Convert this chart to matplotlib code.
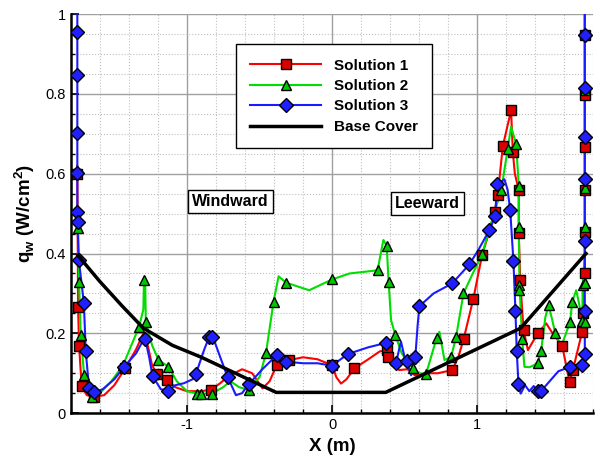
import matplotlib
matplotlib.use('Agg')
import matplotlib.pyplot as plt
from matplotlib.ticker import MultipleLocator, FormatStrFormatter

plt.rcParams['font.family'] = ['Liberation Sans', 'DejaVu Sans']
plt.rcParams['mathtext.fontset'] = 'custom'
plt.rcParams['mathtext.rm'] = 'Liberation Sans:bold'
plt.rcParams['axes.unicode_minus'] = False

# Solution 1 (rojo, cuadrados)
s1_x = [-1.755, -1.75, -1.743, -1.725, -1.69, -1.64, -1.57, -1.5, -1.426, -1.35, -1.3, -1.27,
        -1.24, -1.207, -1.134, -1.08, -1.0, -0.9, -0.834, -0.77, -0.72, -0.62, -0.55, -0.479,
        -0.43, -0.382, -0.294, -0.2, -0.1, 0.0, 0.03, 0.062, 0.1, 0.154, 0.25, 0.33, 0.38,
        0.385, 0.41, 0.464, 0.52, 0.57, 0.648, 0.73, 0.828, 0.87, 0.908, 0.974, 1.034, 1.08,
        1.12, 1.142, 1.177, 1.234, 1.246, 1.26, 1.287, 1.287, 1.297, 1.32, 1.35, 1.418, 1.476,
        1.52, 1.586, 1.637, 1.66, 1.724, 1.728, 1.742, 1.742]
s1_y = [0.62, 0.265, 0.169, 0.068, 0.045, 0.041, 0.045, 0.07, 0.112, 0.16, 0.2, 0.17,
        0.12, 0.098, 0.083, 0.065, 0.055, 0.055, 0.059, 0.075, 0.091, 0.11, 0.1, 0.062,
        0.08, 0.12, 0.133, 0.14, 0.135, 0.12, 0.09, 0.074, 0.085, 0.112, 0.135, 0.155, 0.157,
        0.14, 0.12, 0.108, 0.11, 0.095, 0.1, 0.1, 0.108, 0.14, 0.187, 0.287, 0.396, 0.45,
        0.505, 0.546, 0.669, 0.759, 0.655, 0.6, 0.559, 0.452, 0.333, 0.208, 0.158, 0.2, 0.225,
        0.2, 0.169, 0.078, 0.108, 0.204, 0.251, 0.35, 1.05]
s1_mx = [-1.755, -1.75, -1.743, -1.725, -1.64, -1.426, -1.207, -1.134, -0.834, -0.382, -0.294,
         0.0, 0.154, 0.38, 0.385, 0.828, 0.908, 0.974, 1.034, 1.12, 1.142, 1.177, 1.234, 1.246,
         1.287, 1.287, 1.297, 1.32, 1.418, 1.586, 1.637, 1.66, 1.724, 1.728,
         1.742, 1.742, 1.742, 1.742, 1.742, 1.742]
s1_my = [0.60, 0.265, 0.169, 0.068, 0.041, 0.112, 0.098, 0.083, 0.059, 0.12, 0.133,
         0.12, 0.112, 0.157, 0.14, 0.108, 0.187, 0.287, 0.396, 0.505, 0.546, 0.669, 0.759, 0.655,
         0.559, 0.452, 0.333, 0.208, 0.2, 0.169, 0.078, 0.108, 0.204, 0.251,
         0.35, 0.453, 0.559, 0.666, 0.797, 0.949]

# Solution 2 (verde, triangulos)
s2_x = [-1.755, -1.749, -1.743, -1.732, -1.708, -1.68, -1.651, -1.6, -1.52, -1.44, -1.33, -1.30,
        -1.295, -1.288, -1.283, -1.24, -1.196, -1.127, -1.07, -1.0, -0.927, -0.904, -0.83,
        -0.75, -0.7, -0.64, -0.575, -0.5, -0.455, -0.403, -0.368, -0.317, -0.157, 0.0, 0.12,
        0.314, 0.354, 0.377, 0.39, 0.407, 0.437, 0.48, 0.52, 0.561, 0.6, 0.648, 0.69, 0.721,
        0.74, 0.775, 0.821, 0.855, 0.906, 0.97, 1.034, 1.1, 1.166, 1.211, 1.234, 1.269, 1.287,
        1.287, 1.292, 1.31, 1.326, 1.36, 1.39, 1.418, 1.441, 1.47, 1.492, 1.52, 1.538, 1.579,
        1.641, 1.655, 1.683, 1.705, 1.724, 1.728, 1.742, 1.742]
s2_y = [0.50, 0.463, 0.329, 0.196, 0.095, 0.05, 0.041, 0.05, 0.08, 0.12, 0.216, 0.26,
        0.34, 0.34, 0.229, 0.17, 0.134, 0.116, 0.08, 0.055, 0.049, 0.049, 0.049,
        0.065, 0.08, 0.065, 0.059, 0.09, 0.15, 0.279, 0.343, 0.327, 0.308, 0.335, 0.35,
        0.358, 0.434, 0.419, 0.329, 0.233, 0.195, 0.15, 0.13, 0.112, 0.1, 0.098, 0.15, 0.189,
        0.204, 0.133, 0.141, 0.191, 0.3, 0.35, 0.398, 0.48, 0.559, 0.663, 0.718, 0.674, 0.569,
        0.467, 0.32, 0.187, 0.116, 0.115, 0.12, 0.126, 0.156, 0.24, 0.271, 0.23, 0.2, 0.166,
        0.229, 0.279, 0.308, 0.27, 0.231, 0.321, 0.4, 1.05]
s2_mx = [-1.749, -1.743, -1.732, -1.708, -1.651, -1.44, -1.33, -1.295, -1.283, -1.196, -1.127,
         -0.927, -0.904, -0.83, -0.575, -0.455, -0.403, -0.317, 0.0, 0.314, 0.377, 0.39, 0.437,
         0.561, 0.648, 0.721, 0.821, 0.855, 0.906, 1.034, 1.166, 1.211, 1.269, 1.287, 1.287,
         1.292, 1.292, 1.31, 1.418, 1.441, 1.492, 1.538, 1.641, 1.655, 1.724, 1.728,
         1.742, 1.742, 1.742, 1.742, 1.742]
s2_my = [0.463, 0.329, 0.196, 0.095, 0.041, 0.12, 0.216, 0.333, 0.229, 0.134, 0.116,
         0.049, 0.049, 0.049, 0.059, 0.15, 0.279, 0.327, 0.335, 0.358, 0.419, 0.329, 0.195,
         0.112, 0.098, 0.189, 0.141, 0.191, 0.3, 0.398, 0.559, 0.663, 0.674, 0.569, 0.467,
         0.32, 0.308, 0.187, 0.126, 0.156, 0.271, 0.2, 0.229, 0.279, 0.231, 0.321,
         0.229, 0.325, 0.467, 0.565, 0.81]

# Solution 3 (azul, rombos)
s3_x = [-1.755, -1.755, -1.745, -1.71, -1.697, -1.674, -1.64, -1.58, -1.5, -1.432, -1.35,
        -1.29, -1.26, -1.237, -1.18, -1.127, -1.08, -1.02, -0.96, -0.938, -0.88, -0.846,
        -0.82, -0.77, -0.72, -0.662, -0.62, -0.575, -0.48, -0.382, -0.317, -0.2, -0.1, 0.0,
        0.108, 0.25, 0.372, 0.40, 0.441, 0.475, 0.50, 0.515, 0.545, 0.574, 0.59, 0.602, 0.7,
        0.828, 0.947, 1.01, 1.085, 1.126, 1.135, 1.165, 1.188, 1.21, 1.228, 1.25, 1.264,
        1.273, 1.285, 1.30, 1.33, 1.36, 1.39, 1.418, 1.44, 1.5, 1.56, 1.641, 1.68, 1.724,
        1.742, 1.742]
s3_y = [1.05, 0.48, 0.385, 0.276, 0.155, 0.062, 0.052, 0.06, 0.085, 0.116, 0.15,
        0.19, 0.14, 0.093, 0.06, 0.056, 0.07, 0.075, 0.085, 0.098, 0.16, 0.191,
        0.19, 0.14, 0.091, 0.045, 0.05, 0.072, 0.11, 0.145, 0.129, 0.125, 0.125, 0.119,
        0.148, 0.165, 0.176, 0.15, 0.125, 0.18, 0.14, 0.131, 0.095, 0.14, 0.22, 0.268, 0.3,
        0.325, 0.373, 0.41, 0.459, 0.494, 0.574, 0.58, 0.586, 0.56, 0.509, 0.382, 0.256,
        0.156, 0.072, 0.049, 0.07, 0.055, 0.068, 0.055, 0.055, 0.08, 0.105, 0.116, 0.12, 0.12,
        0.148, 1.05]
s3_mx = [-1.755, -1.755, -1.755, -1.755, -1.755, -1.752, -1.745, -1.71, -1.697, -1.674, -1.64,
         -1.432, -1.288, -1.237, -1.127, -0.938, -0.846, -0.825, -0.72, -0.575, -0.382, -0.317,
         0.0, 0.108, 0.372, 0.441, 0.515, 0.574, 0.602, 0.828, 0.947, 1.085, 1.126, 1.135,
         1.228, 1.25, 1.264, 1.273, 1.285, 1.418, 1.44, 1.641, 1.724,
         1.742, 1.742, 1.742, 1.742, 1.742, 1.742, 1.742]
s3_my = [0.956, 0.847, 0.701, 0.603, 0.504, 0.479, 0.385, 0.276, 0.155, 0.062, 0.052,
         0.116, 0.187, 0.093, 0.056, 0.098, 0.191, 0.19, 0.091, 0.072, 0.145, 0.129,
         0.119, 0.148, 0.176, 0.125, 0.131, 0.14, 0.268, 0.325, 0.373, 0.459, 0.494, 0.574,
         0.509, 0.382, 0.256, 0.156, 0.072, 0.055, 0.055, 0.116, 0.12,
         0.148, 0.256, 0.431, 0.588, 0.691, 0.816, 0.949]

# Base Cover
base_x = [-1.75, -1.6, -1.45, -1.3, -1.1, -0.9, -0.385, 0.37, 1.3, 1.75]
base_y = [0.395, 0.33, 0.27, 0.213, 0.17, 0.14, 0.052, 0.052, 0.213, 0.40]

fig = plt.figure(figsize=(5.95, 4.57), dpi=100)
ax = fig.add_axes([0.119, 0.096, 0.878, 0.873])

ax.plot(s1_x, s1_y, color='#ff0000', lw=1.5, zorder=3)
ax.plot(s1_mx, s1_my, ls='none', marker='s', ms=6.5, mfc='#dd0000', mec='black', mew=1, zorder=4)
ax.plot(s2_x, s2_y, color='#00dd00', lw=1.5, zorder=3)
ax.plot(s2_mx, s2_my, ls='none', marker='^', ms=7.5, mfc='#00c800', mec='black', mew=1, zorder=4)
ax.plot(s3_x, s3_y, color='#1a1aff', lw=1.5, zorder=3)
ax.plot(s3_mx, s3_my, ls='none', marker='D', ms=6.8, mfc='#2020ff', mec='black', mew=1, zorder=4)
ax.plot(base_x, base_y, color='black', lw=2.5, zorder=5)

# entradas de la leyenda
h1, = ax.plot([], [], color='#ff0000', lw=1.5, marker='s', ms=6.5, mfc='#dd0000', mec='black')
h2, = ax.plot([], [], color='#00dd00', lw=1.5, marker='^', ms=7.5, mfc='#00c800', mec='black')
h3, = ax.plot([], [], color='#1a1aff', lw=1.5, marker='D', ms=6.8, mfc='#2020ff', mec='black')
h4, = ax.plot([], [], color='black', lw=2.5)
leg = ax.legend([h1, h2, h3, h4], ['Solution 1', 'Solution 2', 'Solution 3', 'Base Cover'],
                loc='upper left', bbox_to_anchor=(0.316, 0.925), borderaxespad=0,
                fancybox=False, framealpha=1, edgecolor='black', handlelength=4.6,
                handletextpad=0.85, labelspacing=0.42, borderpad=0.95,
                prop={'weight': 'bold', 'size': 11}, numpoints=1)
leg.get_frame().set_linewidth(1.0)
leg.set_zorder(10)

box = dict(boxstyle='square,pad=0.25', fc='white', ec='black', lw=1)
ax.text(-0.70, 0.531, 'Windward', ha='center', va='center', fontsize=11.5,
        fontweight='bold', bbox=box, zorder=9)
ax.text(0.66, 0.526, 'Leeward', ha='center', va='center', fontsize=11.5,
        fontweight='bold', bbox=box, zorder=9)

ax.set_xlim(-1.8, 1.8)
ax.set_ylim(0, 1)
ax.xaxis.set_major_locator(MultipleLocator(1))
ax.xaxis.set_minor_locator(MultipleLocator(0.2))
ax.yaxis.set_major_locator(MultipleLocator(0.2))
ax.yaxis.set_minor_locator(MultipleLocator(0.05))
ax.yaxis.set_major_formatter(FormatStrFormatter('%g'))
ax.grid(which='major', color='#a0a0a0', lw=1.0, ls='-')
ax.grid(which='minor', color='#c0c0c0', lw=0.8, ls=':')
ax.set_axisbelow(True)
ax.tick_params(which='both', direction='in', labelsize=10.5)
ax.tick_params(which='major', length=6, width=1.2)
ax.tick_params(which='minor', length=3, width=1)
ax.spines['top'].set_visible(False)
ax.spines['right'].set_visible(False)
ax.spines['left'].set_linewidth(1.8)
ax.spines['bottom'].set_linewidth(1.8)

ax.set_xlabel('X (m)', fontsize=13.5, fontweight='bold', labelpad=4)
ax.set_ylabel(r'q$_\mathregular{w}$ (W/cm$^\mathregular{2}$)', fontsize=13.5,
              fontweight='bold', labelpad=6)

fig.savefig('out.png', dpi=100)
